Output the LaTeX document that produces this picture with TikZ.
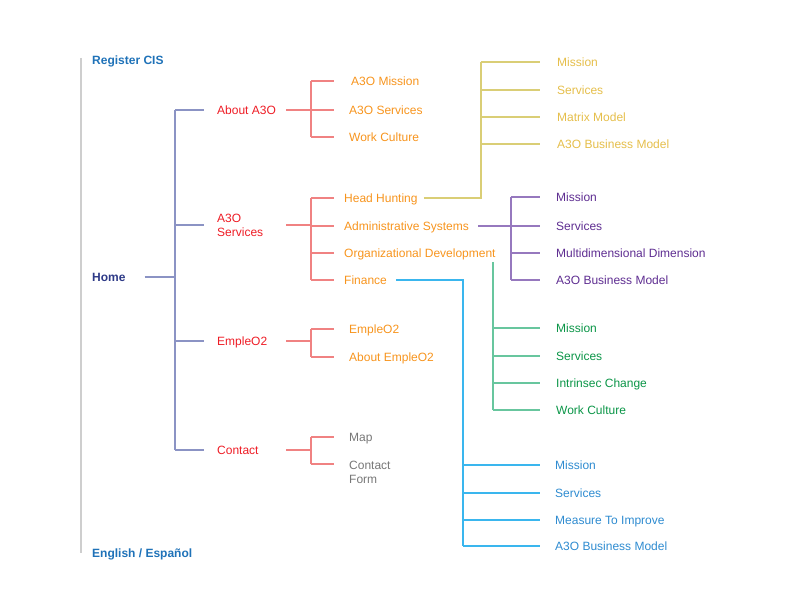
\documentclass[tikz,border=0pt]{standalone}
\usepackage{fontspec}
\setmainfont{Liberation Sans}
\usetikzlibrary{calc}
\definecolor{sitelink}{RGB}{31,114,184}
\definecolor{homenavy}{RGB}{46,58,135}
\definecolor{navyline}{RGB}{139,147,196}
\definecolor{menured}{RGB}{238,28,37}
\definecolor{pinkline}{RGB}{240,130,130}
\definecolor{suborange}{RGB}{247,148,29}
\definecolor{formgray}{RGB}{119,119,119}
\definecolor{goldline}{RGB}{218,206,118}
\definecolor{goldtext}{RGB}{229,190,74}
\definecolor{purpline}{RGB}{150,120,190}
\definecolor{purptext}{RGB}{94,45,145}
\definecolor{greenline}{RGB}{104,198,158}
\definecolor{greentext}{RGB}{10,149,71}
\definecolor{cyanline}{RGB}{58,182,238}
\definecolor{bluetext}{RGB}{46,139,208}
\definecolor{sidegray}{RGB}{206,206,206}

\begin{document}
\begin{tikzpicture}[x=1pt,y=-1pt,
	lbl/.style={anchor=west,inner sep=0pt,text height=9.5pt,text depth=1pt,font=\fontsize{12}{14}\selectfont},
	lbltwo/.style={inner sep=0pt,align=left,font=\fontsize{12}{14}\selectfont},
	link/.style={line width=1.3pt}]
	\useasboundingbox (0,0) rectangle (792,612);

	%side bar
	\draw[sidegray,line width=2pt] (81,58) -- (81,553);
	\node[lbl,sitelink,font=\fontsize{12}{14}\selectfont\bfseries] (register) at (92,60) {Register CIS};
	\node[lbl,sitelink,font=\fontsize{12}{14}\selectfont\bfseries] (language) at (92,553) {English / Español};
	\node[lbl,homenavy,font=\fontsize{12}{14}\selectfont\bfseries] (home) at (92,277) {Home};

	%main menu
	\node[lbl,menured] (about) at (217,110) {About A3O};
	\node[lbltwo,anchor=west,menured] (services) at (217,225) {A3O\\Services};
	\node[lbl,menured] (emple) at (217,341) {EmpleO2};
	\node[lbl,menured] (contact) at (217,450) {Contact};

	\coordinate (homebus) at (175,0);
	\coordinate (menuend) at (204,0);
	\draw[navyline,line width=1.6pt] ([xshift=19pt]home.east) -- (homebus |- home.east);
	\draw[navyline,line width=1.6pt] (homebus |- about.west) -- (homebus |- contact.west);
	\foreach \m in {about,services,emple,contact}
		\draw[navyline,line width=1.6pt] (homebus |- \m.west) -- (menuend |- \m.west);

	%sub menus
	\node[lbl,suborange] (amission) at (351,81) {A3O Mission};
	\node[lbl,suborange] (aservices) at (349,110) {A3O Services};
	\node[lbl,suborange] (aculture) at (349,137) {Work Culture};

	\node[lbl,suborange] (hunting) at (344,198) {Head Hunting};
	\node[lbl,suborange] (admin) at (344,226) {Administrative Systems};
	\node[lbl,suborange] (orgdev) at (344,253) {Organizational Development};
	\node[lbl,suborange] (finance) at (344,280) {Finance};

	\node[lbl,suborange] (eemple) at (349,329) {EmpleO2};
	\node[lbl,suborange] (eabout) at (349,357) {About EmpleO2};

	\node[lbl,formgray] (map) at (349,437) {Map};
	\node[lbltwo,anchor=north west,formgray] (form) at (349,460.5) {Contact\\Form};

	\coordinate (menuout) at (286,0);
	\coordinate (subbus) at (311,0);
	\coordinate (subend) at (334,0);
	\foreach \m in {about,services,emple,contact}
		\draw[pinkline,link] (menuout |- \m.west) -- (subbus |- \m.west);
	\draw[pinkline,link] (subbus |- amission.west) -- (subbus |- aculture.west);
	\draw[pinkline,link] (subbus |- hunting.west) -- (subbus |- finance.west);
	\draw[pinkline,link] (subbus |- eemple.west) -- (subbus |- eabout.west);
	\coordinate (formpin) at ($(form.north west)+(0,3.5)$);
	\draw[pinkline,link] (subbus |- map.west) -- (subbus |- formpin);
	\foreach \s in {amission,aservices,aculture,hunting,admin,orgdev,finance,eemple,eabout,map,formpin}
		\draw[pinkline,link] (subbus |- \s) -- (subend |- \s);

	%third level
	\coordinate (leafend) at (540,0);

	% head hunting
	\node[lbl,goldtext] (hmission) at (557,62) {Mission};
	\node[lbl,goldtext] (hservices) at (557,90) {Services};
	\node[lbl,goldtext] (hmatrix) at (557,117) {Matrix Model};
	\node[lbl,goldtext] (hbusiness) at (557,144) {A3O Business Model};
	\coordinate (goldbus) at (481,0);
	\draw[goldline,link] ([xshift=6pt]hunting.east) -- (goldbus |- hunting.east) -- (goldbus |- hmission.west);
	\foreach \s in {hmission,hservices,hmatrix,hbusiness}
		\draw[goldline,link] (goldbus |- \s.west) -- (leafend |- \s.west);

	% administrative systems
	\node[lbl,purptext] (pmission) at (556,197) {Mission};
	\node[lbl,purptext] (pservices) at (556,226) {Services};
	\node[lbl,purptext] (pmulti) at (556,253) {Multidimensional Dimension};
	\node[lbl,purptext] (pbusiness) at (556,280) {A3O Business Model};
	\coordinate (purpbus) at (511,0);
	\draw[purpline,link] ([xshift=9pt]admin.east) -- (purpbus |- admin.east);
	\draw[purpline,link] (purpbus |- pmission.west) -- (purpbus |- pbusiness.west);
	\foreach \s in {pmission,pservices,pmulti,pbusiness}
		\draw[purpline,link] (purpbus |- \s.west) -- (leafend |- \s.west);

	% organizational development
	\node[lbl,greentext] (gmission) at (556,328) {Mission};
	\node[lbl,greentext] (gservices) at (556,356) {Services};
	\node[lbl,greentext] (gchange) at (556,383) {Intrinsec Change};
	\node[lbl,greentext] (gculture) at (556,410) {Work Culture};
	\coordinate (greentop) at (493,262);
	\draw[greenline,link] (greentop) -- (greentop |- gculture.west);
	\foreach \s in {gmission,gservices,gchange,gculture}
		\draw[greenline,link] (greentop |- \s.west) -- (leafend |- \s.west);

	% finance
	\node[lbl,bluetext] (fmission) at (555,465) {Mission};
	\node[lbl,bluetext] (fservices) at (555,493) {Services};
	\node[lbl,bluetext] (fmeasure) at (555,520) {Measure To Improve};
	\node[lbl,bluetext] (fbusiness) at (555,546) {A3O Business Model};
	\coordinate (bluebus) at (463,0);
	\draw[cyanline,link] ([xshift=9pt]finance.east) -- (bluebus |- finance.east) -- (bluebus |- fbusiness.west);
	\foreach \s in {fmission,fservices,fmeasure,fbusiness}
		\draw[cyanline,link] (bluebus |- \s.west) -- (leafend |- \s.west);
\end{tikzpicture}
\end{document}
